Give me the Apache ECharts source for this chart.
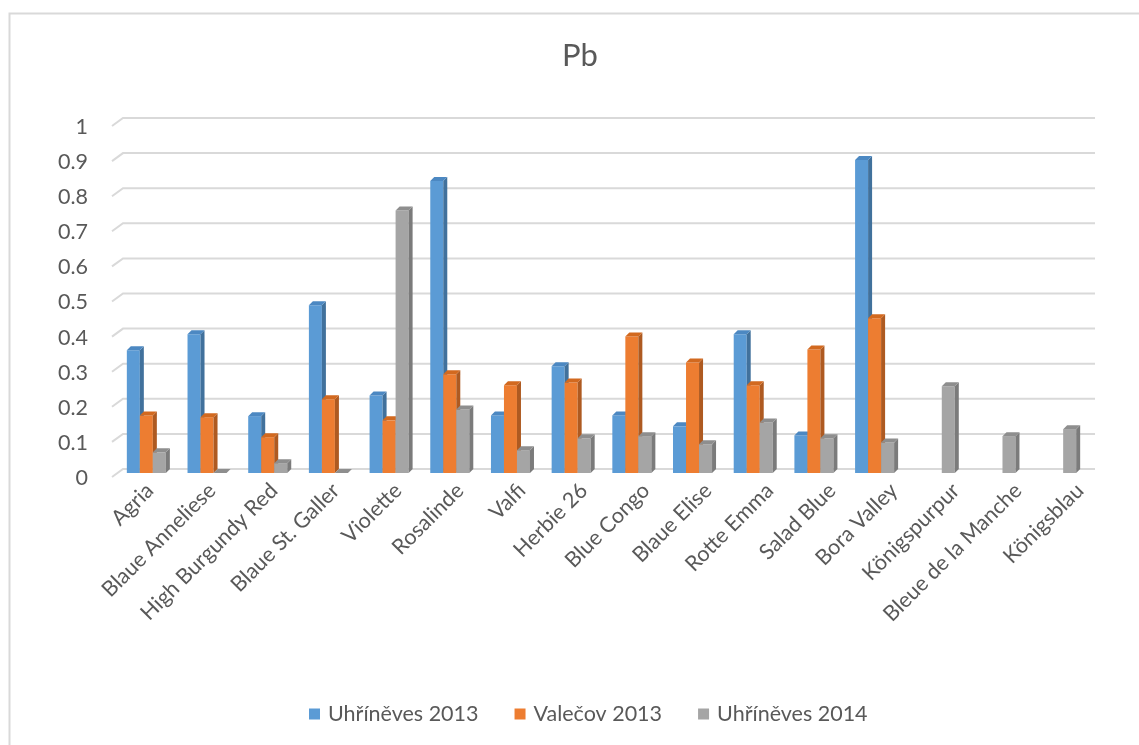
<!DOCTYPE html>
<html><head><meta charset="utf-8">
<script src="https://cdn.jsdelivr.net/npm/echarts@6/dist/echarts.min.js"></script>
<style>html,body{margin:0;padding:0;background:#fff}#c{width:1139px;height:745px}</style>
</head><body><div id="c"></div>
<script>
const categories = ['Agria','Blaue Anneliese','High Burgundy Red','Blaue St. Galler','Violette','Rosalinde','Valfi','Herbie 26','Blue Congo','Blaue Elise','Rotte Emma','Salad Blue','Bora Valley','Königspurpur','Bleue de la Manche','Königsblau'];
const uhrineves2013 = [0.350,0.395,0.162,0.478,0.221,0.832,0.164,0.304,0.164,0.133,0.395,0.107,0.892,null,null,null];
const valecov2013   = [0.164,0.159,0.102,0.210,0.150,0.281,0.250,0.258,0.389,0.315,0.250,0.352,0.441,null,null,null];
const uhrineves2014 = [0.059,0,0.028,0,0.748,0.181,0.065,0.099,0.105,0.082,0.144,0.099,0.087,0.247,0.105,0.125];
const seriesNames = ['Uhříněves 2013','Valečov 2013','Uhříněves 2014'];
const yTicks = [0,0.1,0.2,0.3,0.4,0.5,0.6,0.7,0.8,0.9,1];
const titleText = 'Pb';

const FONT = 'Lato, sans-serif';
const TXT = '#595959';
const faces = [
  {front:'#5B9BD5', side:'#41719C', top:'#4C88C2'},
  {front:'#ED7D31', side:'#AE5A21', top:'#D2691F'},
  {front:'#A5A5A5', side:'#7B7B7B', top:'#8E8E8E'}
];
const seriesData = [uhrineves2013, valecov2013, uhrineves2014];

function barRender(k){
  return function(params, api){
    const i = api.value(0), v = api.value(1);
    const back = api.coord([i, v]);
    const base = api.coord([i, 0]);
    const band = api.size([1, 0])[0];
    const w = band * 0.2143;
    const dx = 4, dy = 4;
    const xb = back[0] + (k - 1.5) * w;
    const yb = back[1], y0 = base[1];
    const xf = xb - dx;
    const f = faces[k];
    return {type:'group', children:[
      {type:'rect', shape:{x:xf, y:yb+dy, width:w, height:Math.max(0, y0 - yb)}, style:{fill:f.front}},
      {type:'polygon', shape:{points:[[xf+w, yb+dy],[xb+w, yb],[xb+w, y0],[xf+w, y0+dy]]}, style:{fill:f.side}},
      {type:'polygon', shape:{points:[[xf, yb+dy],[xf+w, yb+dy],[xb+w, yb],[xb, yb]]}, style:{fill:f.top}}
    ]};
  };
}

function gridRender(params, api){
  const p = api.coord([0, api.value(1)]);
  const cs = params.coordSys;
  return {type:'polyline', shape:{points:[[cs.x - 11, p[1] + 8],[cs.x, p[1]],[cs.x + cs.width, p[1]]]},
    style:{stroke:'#D9D9D9', lineWidth:2, fill:null}};
}

const chart = echarts.init(document.getElementById('c'), null, {renderer:'canvas'});
const series = [{
  type:'custom', name:'grid', xAxisIndex:0, yAxisIndex:0, z:1, silent:true,
  renderItem:gridRender, data:yTicks.map(v => [0, v])
}];
seriesNames.forEach((n, k) => {
  series.push({
    type:'custom', name:n, xAxisIndex:1, yAxisIndex:1, z:2 ,
    itemStyle:{color:faces[k].front},
    renderItem:barRender(k),
    data:seriesData[k].map((v, i) => v === null ? null : [i, v]).filter(d => d)
  });
});

chart.setOption({
  animation:false,
  backgroundColor:'#fff',
  color:faces.map(f => f.front),
  title:{text:titleText, left:575, top:35, textAlign:'center',
    textStyle:{fontFamily:FONT, fontSize:31, fontWeight:'normal', color:TXT}},
  legend:{data:seriesNames, left:304, top:698, itemWidth:11, itemHeight:11, itemGap:36, icon:'rect',
    textStyle:{fontFamily:FONT, fontSize:21.5, color:TXT, padding:[0,0,0,3]}},
  graphic:[{type:'rect', left:7, top:11, shape:{width:1200, height:800}, style:{fill:null, stroke:'#D9D9D9', lineWidth:2}, silent:true}],
  grid:[
    {left:123, right:44, top:118, bottom:276},
    {left:120, right:48, top:118, bottom:276},
    {left:119, right:28, top:118, bottom:276}
  ],
  xAxis:[
    {type:'value', gridIndex:0, min:0, max:1, show:false},
    {type:'category', gridIndex:1, data:categories, axisLine:{show:false}, axisTick:{show:false}, axisLabel:{show:false}},
    {type:'category', gridIndex:2, data:categories, axisLine:{show:false}, axisTick:{show:false},
      axisLabel:{rotate:45, interval:0, margin:18, fontFamily:FONT, fontSize:21.5, color:TXT}}
  ],
  yAxis:[
    {type:'value', gridIndex:0, min:0, max:1, interval:0.1, splitLine:{show:false}, axisLine:{show:false}, axisTick:{show:false},
      axisLabel:{margin:35, fontFamily:FONT, fontSize:21.5, color:TXT, verticalAlign:'top', lineHeight:18,
        formatter: v => String(Math.round(v*10)/10)}},
    {type:'value', gridIndex:1, min:0, max:1, interval:0.1, show:false},
    {type:'value', gridIndex:2, min:0, max:1, show:false}
  ],
  series:series
});
</script></body></html>
